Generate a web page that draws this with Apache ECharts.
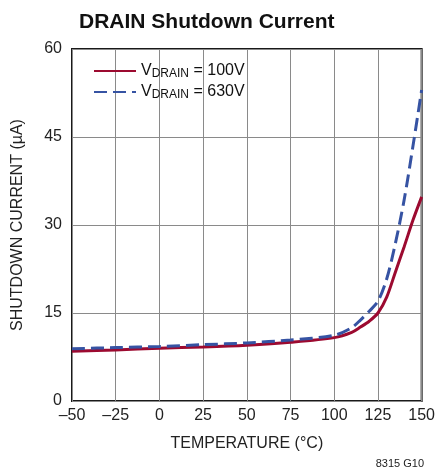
<!DOCTYPE html>
<html>
<head>
<meta charset="utf-8">
<script src="https://cdn.jsdelivr.net/npm/echarts@6/dist/echarts.min.js"></script>
<style>
  html, body { margin: 0; padding: 0; background: #fff; }
  #chart { width: 438px; height: 474px; }
</style>
</head>
<body>
<div id="chart"></div>
<script>
// temperature (°C) / shutdown current (µA)
const red100V = [
  [-50, 8.5], [-25, 8.7], [0, 9.0], [25, 9.2], [50, 9.5], [75, 10.0],
  [100, 10.8], [110, 11.7], [115, 12.6], [120, 13.6], [125, 15.0],
  [130, 17.7], [135, 22.0], [140, 26.3], [145, 30.8], [150, 34.8]
];
const blue630V = [
  [-50, 8.9], [-25, 9.1], [0, 9.3], [25, 9.6], [50, 9.9], [75, 10.4],
  [100, 11.2], [110, 12.5], [115, 13.8], [120, 15.3], [125, 17.0],
  [130, 20.8], [135, 26.9], [140, 34.3], [145, 43.4], [150, 53.0]
];
const xTicks = [-50, -25, 0, 25, 50, 75, 100, 125, 150];
const yTicks = [0, 15, 30, 45, 60];

const FONT = '"Liberation Sans", Arial, sans-serif';

const chart = echarts.init(document.getElementById('chart'));

chart.setOption({
  animation: false,
  title: {
    text: 'DRAIN Shutdown Current',
    left: 74,
    top: 7,
    textStyle: { fontFamily: FONT, fontSize: 21, fontWeight: 'bold', color: '#111' }
  },
  grid: { left: 72, right: 14, top: 49, bottom: 73, show: true, borderColor: '#1a1a1a', borderWidth: 2 },
  legend: {
    left: 88,
    top: 58,
    orient: 'vertical',
    itemWidth: 42,
    itemHeight: 14,
    itemGap: 4,
    data: ['100V', '630V'],
    itemStyle: { opacity: 0 },
    formatter: (name) => `{v|V}{s|DRAIN}{v| = ${name}}`,
    textStyle: {
      fontFamily: FONT,
      rich: {
        v: { fontFamily: FONT, fontSize: 16, color: '#111' },
        s: { fontFamily: FONT, fontSize: 12, color: '#111', verticalAlign: 'bottom', padding: [6, 0, 0, 0] }
      }
    }
  },
  xAxis: {
    type: 'value',
    min: -50,
    max: 150,
    interval: 25,
    name: 'TEMPERATURE (°C)',
    nameLocation: 'middle',
    nameGap: 35,
    nameTextStyle: { fontFamily: FONT, fontSize: 16, color: '#222' },
    axisLine: { show: false },
    axisTick: { show: false },
    axisLabel: {
      fontFamily: FONT, fontSize: 16, color: '#222', margin: 7,
      formatter: (v) => (xTicks.includes(v) ? String(v).replace('-', '–') : '')
    },
    splitLine: { lineStyle: { color: '#8a8a8a', width: 1 } }
  },
  yAxis: {
    type: 'value',
    min: 0,
    max: 60,
    interval: 15,
    name: 'SHUTDOWN CURRENT (µA)',
    nameLocation: 'middle',
    nameGap: 46,
    nameTextStyle: { fontFamily: FONT, fontSize: 16, color: '#222' },
    axisLine: { show: false },
    axisTick: { show: false },
    axisLabel: {
      fontFamily: FONT, fontSize: 16, color: '#222', margin: 10,
      formatter: (v) => (yTicks.includes(v) ? String(v) : '')
    },
    splitLine: { lineStyle: { color: '#8a8a8a', width: 1 } }
  },
  graphic: [
    {
      type: 'text',
      right: 14,
      top: 458,
      style: { text: '8315 G10', fontFamily: FONT, fontSize: 11, fill: '#222' }
    }
  ],
  series: [
    {
      name: '100V',
      type: 'line',
      smooth: 0.3,
      symbol: 'none',
      data: red100V,
      lineStyle: { width: 3, color: '#9c0a30' },
      itemStyle: { color: '#9c0a30' }
    },
    {
      name: '630V',
      type: 'line',
      smooth: 0.3,
      symbol: 'none',
      data: blue630V,
      lineStyle: { width: 3, color: '#3653a3', type: [13, 6] },
      itemStyle: { color: '#3653a3' }
    }
  ]
});
</script>
</body>
</html>
